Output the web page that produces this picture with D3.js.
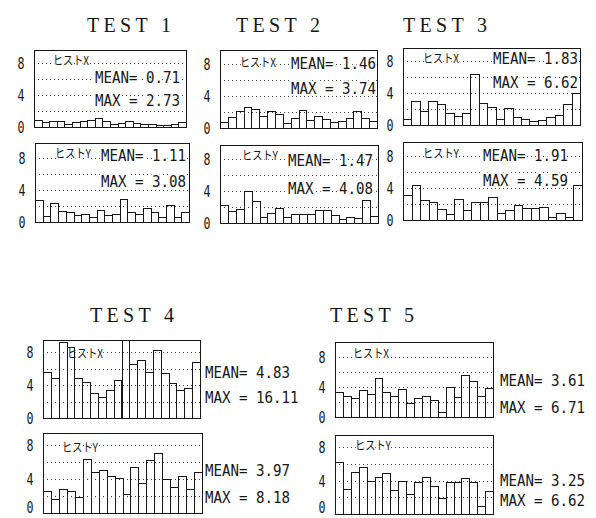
<!DOCTYPE html>
<html>
<head>
<meta charset="utf-8">
<script src="https://cdn.jsdelivr.net/npm/d3@7"></script>
<style>
  body { margin: 0; background: #fff; }
</style>
</head>
<body>
<div id="plot"></div>
<script>
// values
const titles = ["TEST 1", "TEST 2", "TEST 3", "TEST 4", "TEST 5"];

const histX1 = [0.9, 0.6, 0.8, 0.8, 0.4, 0.6, 0.8, 0.9, 1.1, 0.7, 0.4, 0.5, 0.7, 0.5, 0.4, 0.4, 0.3, 0.3, 0.4, 0.6];
const histY1 = [2.8, 0.7, 2.4, 1.4, 1.2, 0.9, 1.0, 0.6, 1.5, 0.9, 1.0, 2.9, 1.25, 1.0, 1.7, 1.2, 0.6, 2.1, 0.6, 1.25];
const histX2 = [0.8, 1.4, 2.1, 2.6, 2.4, 1.5, 2.1, 1.7, 0.6, 1.25, 2.3, 1.0, 1.5, 1.1, 0.8, 0.9, 1.25, 2.1, 1.25, 0.9];
const histY2 = [2.3, 1.5, 1.7, 4.0, 2.7, 0.75, 1.25, 1.9, 0.75, 1.1, 1.1, 1.1, 1.6, 1.6, 1.0, 0.5, 0.75, 0.6, 2.9, 0.9];
const histX3 = [0.8, 3.0, 1.8, 3.0, 2.6, 1.5, 1.1, 1.5, 6.4, 2.7, 2.2, 0.8, 2.1, 1.0, 0.7, 0.55, 0.6, 0.95, 1.25, 2.6, 4.0];
const histY3 = [3.1, 4.4, 2.5, 2.2, 1.4, 0.8, 2.6, 1.25, 2.3, 2.3, 2.9, 0.9, 1.2, 1.9, 1.5, 1.5, 1.6, 0.35, 0.9, 0.35, 4.4];
const histX4 = [5.6, 4.8, 9.25, 8.6, 4.8, 4.4, 3.0, 2.5, 3.4, 4.6, 16.11, 6.6, 7.0, 5.6, 8.2, 5.5, 4.2, 3.4, 3.6, 6.8];
const histY4 = [2.6, 1.6, 2.8, 2.6, 1.85, 6.3, 4.85, 5.05, 4.3, 4.1, 2.2, 5.45, 3.5, 6.2, 7.1, 4.0, 3.1, 4.3, 2.8, 4.85];
const histX5 = [3.4, 2.8, 2.5, 3.6, 3.1, 5.2, 3.3, 2.8, 3.7, 1.9, 2.6, 2.8, 2.3, 0.7, 4.0, 2.7, 5.6, 4.8, 2.8, 3.9];
const histY5 = [6.2, 3.0, 5.0, 5.6, 4.0, 4.4, 4.85, 2.9, 4.0, 2.4, 3.8, 4.4, 3.4, 1.9, 3.8, 3.8, 4.3, 3.8, 1.0, 2.8];

const meanX = [0.71, 1.46, 1.83, 4.83, 3.61];
const maxX = [2.73, 3.74, 6.62, 16.11, 6.71];
const meanY = [1.11, 1.47, 1.91, 3.97, 3.25];
const maxY = [3.08, 4.08, 4.59, 8.18, 6.62];

const yTicks = [0, 4, 8];
const gridValues = [2, 4, 6, 8];

// page layout
const titlePos = [[129, 25], [278, 25], [445, 25], [132, 315], [372, 315]];

const panels = [
    {t: 0, kind: "X", vals: histX1, x0: 34, x1: 186, top: 50, bottom: 127, y8: 63, lab: [53, 60], statX: 180, anchor: "end", meanAt: 77, maxAt: 100},
    {t: 0, kind: "Y", vals: histY1, x0: 35, x1: 189, top: 143, bottom: 222, y8: 158, lab: [55, 153], statX: 186, anchor: "end", meanAt: 155, maxAt: 181},
    {t: 1, kind: "X", vals: histX2, x0: 220, x1: 377, top: 50, bottom: 128, y8: 64, lab: [240, 62], statX: 376, anchor: "end", meanAt: 63, maxAt: 88},
    {t: 1, kind: "Y", vals: histY2, x0: 220, x1: 378, top: 145, bottom: 223, y8: 159, lab: [242, 155], statX: 373, anchor: "end", meanAt: 160, maxAt: 188},
    {t: 2, kind: "X", vals: histX3, x0: 403, x1: 580, top: 48, bottom: 125, y8: 61, lab: [423, 58], statX: 578, anchor: "end", meanAt: 58, maxAt: 82},
    {t: 2, kind: "Y", vals: histY3, x0: 403, x1: 582, top: 142, bottom: 220, y8: 156, lab: [423, 153], statX: 568, anchor: "end", meanAt: 155, maxAt: 180},
    {t: 3, kind: "X", vals: histX4, x0: 43, x1: 200, top: 340, bottom: 418, y8: 352, lab: [67, 353], statX: 205, anchor: "start", meanAt: 372, maxAt: 397},
    {t: 3, kind: "Y", vals: histY4, x0: 43, x1: 202, top: 433, bottom: 513, y8: 445, lab: [62, 447], statX: 205, anchor: "start", meanAt: 470, maxAt: 497},
    {t: 4, kind: "X", vals: histX5, x0: 335, x1: 493, top: 342, bottom: 417, y8: 357, lab: [353, 353], statX: 500, anchor: "start", meanAt: 380, maxAt: 407},
    {t: 4, kind: "Y", vals: histY5, x0: 335, x1: 493, top: 435, bottom: 514, y8: 447, lab: [355, 445], statX: 500, anchor: "start", meanAt: 480, maxAt: 500}
];

const mono = "'DejaVu Sans Mono', monospace";
const ink = "#161616";
const fmt = d3.format(".2f");
const charW = 8.5;
const pageH = 518;

d3.select("#plot")
    .append("svg")
    .attr("width", 596)
    .attr("height", pageH);

const svg = d3.select("svg");

svg.append("rect")
    .attr("width", 596)
    .attr("height", pageH)
    .attr("fill", "#fff");

// Titles
svg.selectAll("text.title").data(titles).enter().append("text")
    .attr("class", "title")
    .attr("x", (d, i) => titlePos[i][0])
    .attr("y", (d, i) => titlePos[i][1] + 7)
    .attr("text-anchor", "middle")
    .attr("font-family", "'Liberation Serif', serif")
    .attr("font-size", 20)
    .attr("textLength", 84)
    .attr("lengthAdjust", "spacing")
    .attr("fill", ink)
    .text(d => d);

function statText(g, p, str, yc) {
    g.append("text")
        .attr("x", p.statX)
        .attr("y", yc + 6)
        .attr("text-anchor", p.anchor)
        .attr("font-family", mono)
        .attr("font-size", 16)
        .attr("textLength", str.length * charW)
        .attr("lengthAdjust", "spacingAndGlyphs")
        .attr("fill", ink)
        .attr("stroke", "#fff")
        .attr("stroke-width", 4)
        .attr("paint-order", "stroke")
        .text(str);
}

panels.forEach(p => {
    const g = svg.append("g");

    const x = d3.scaleBand()
        .domain(d3.range(p.vals.length))
        .range([p.x0, p.x1]);

    const y = d3.scaleLinear()
        .domain([0, 8])
        .range([p.bottom, p.y8]);

    // dotted grid
    g.selectAll("line.grid").data(gridValues).enter().append("line")
        .attr("x1", p.x0)
        .attr("x2", p.x1)
        .attr("y1", d => Math.round(y(d)) + 0.5)
        .attr("y2", d => Math.round(y(d)) + 0.5)
        .attr("stroke", "#444")
        .attr("stroke-width", 1)
        .attr("stroke-dasharray", "1,3");

    // labels inside / beside the box
    g.append("text")
        .attr("x", p.lab[0])
        .attr("y", p.lab[1] + 5)
        .attr("font-family", "'Noto Sans CJK JP', sans-serif")
        .attr("font-size", 12)
        .attr("textLength", 36)
        .attr("lengthAdjust", "spacingAndGlyphs")
        .attr("fill", ink)
        .attr("stroke", "#fff")
        .attr("stroke-width", 3)
        .attr("paint-order", "stroke")
        .text("ヒスト" + p.kind);

    const mean = p.kind === "X" ? meanX[p.t] : meanY[p.t];
    const max = p.kind === "X" ? maxX[p.t] : maxY[p.t];
    statText(g, p, "MEAN= " + fmt(mean), p.meanAt);
    statText(g, p, "MAX = " + fmt(max), p.maxAt);

    // histogram bars, cut off at the top of the box
    g.selectAll("rect.bar").data(p.vals).enter().append("rect")
        .attr("class", "bar")
        .attr("x", (d, i) => Math.round(x(i)) + 0.5)
        .attr("y", d => Math.round(Math.max(y(d), p.top)) + 0.5)
        .attr("width", (d, i) => Math.round(x(i) + x.bandwidth()) - Math.round(x(i)))
        .attr("height", d => p.bottom - Math.round(Math.max(y(d), p.top)))
        .attr("fill", "none")
        .attr("stroke", ink)
        .attr("stroke-width", 1);

    // frame
    g.append("rect")
        .attr("x", p.x0 + 0.5)
        .attr("y", p.top + 0.5)
        .attr("width", p.x1 - p.x0)
        .attr("height", p.bottom - p.top)
        .attr("fill", "none")
        .attr("stroke", ink)
        .attr("stroke-width", 1);

    // 0 / 4 / 8 labels (kept inside the page at the bottom edge)
    g.selectAll("text.tick").data(yTicks).enter().append("text")
        .attr("class", "tick")
        .attr("x", p.x0 - 13)
        .attr("y", d => Math.min(y(d) + 6, pageH - 5))
        .attr("text-anchor", "middle")
        .attr("font-family", mono)
        .attr("font-size", 16)
        .attr("textLength", 7)
        .attr("lengthAdjust", "spacingAndGlyphs")
        .attr("fill", ink)
        .text(d => d);
});
</script>
</body>
</html>
